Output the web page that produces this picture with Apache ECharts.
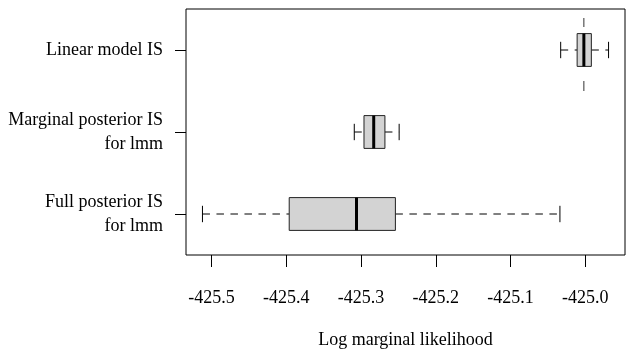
<!DOCTYPE html>
<html>
<head>
<meta charset="utf-8">
<script src="https://cdn.jsdelivr.net/npm/echarts@6/dist/echarts.min.js"></script>
<style>
  html, body { margin: 0; padding: 0; background: #fff; }
  #main { width: 628px; height: 350px; }
</style>
</head>
<body>
<div id="main"></div>
<script>
// categories, bottom to top
var categories = ['Full posterior IS\nfor lmm', 'Marginal posterior IS\nfor lmm', 'Linear model IS'];
// five-number summaries
var lowWhisker = [-425.512, -425.309, -425.033];
var q1 = [-425.396, -425.296, -425.011];
var median = [-425.306, -425.283, -425.002];
var q3 = [-425.254, -425.268, -424.992];
var highWhisker = [-425.034, -425.249, -424.969];
// dashed vertical marker drawn at the top row
var markerValue = -425.002;
var markerRow = 2;
var tickValues = [-425.5, -425.4, -425.3, -425.2, -425.1, -425.0];

var font = 'Liberation Serif';

var boxData = categories.map(function (c, i) {
    return [i, lowWhisker[i], q1[i], median[i], q3[i], highWhisker[i]];
});

function renderBox(params, api) {
    var cat = api.value(0);
    var band = api.size([0, 1])[1];
    var half = band * 0.2;
    var cap = half / 2;
    var pLo = api.coord([api.value(1), cat]);
    var pQ1 = api.coord([api.value(2), cat]);
    var pMed = api.coord([api.value(3), cat]);
    var pQ3 = api.coord([api.value(4), cat]);
    var pHi = api.coord([api.value(5), cat]);
    var y = pMed[1];
    var dash = { stroke: '#000', lineWidth: 1, lineDash: [7.5, 6.5] };
    var solid = { stroke: '#000', lineWidth: 1 };
    return {
        type: 'group',
        children: [
            { type: 'line', shape: { x1: pLo[0], y1: y, x2: pQ1[0], y2: y }, style: dash },
            { type: 'line', shape: { x1: pQ3[0], y1: y, x2: pHi[0], y2: y }, style: dash },
            { type: 'line', shape: { x1: pLo[0], y1: y - cap, x2: pLo[0], y2: y + cap }, style: solid },
            { type: 'line', shape: { x1: pHi[0], y1: y - cap, x2: pHi[0], y2: y + cap }, style: solid },
            { type: 'rect', shape: { x: pQ1[0], y: y - half, width: pQ3[0] - pQ1[0], height: 2 * half },
              style: { fill: '#d3d3d3', stroke: '#222', lineWidth: 1 } },
            { type: 'line', shape: { x1: pMed[0], y1: y - half, x2: pMed[0], y2: y + half },
              style: { stroke: '#000', lineWidth: 3 } }
        ]
    };
}

function renderMarker(params, api) {
    var p = api.coord([api.value(0), api.value(1)]);
    var st = { stroke: '#333', lineWidth: 1 };
    return {
        type: 'group',
        children: [
            { type: 'line', shape: { x1: p[0], y1: p[1] - 32, x2: p[0], y2: p[1] - 23 }, style: st },
            { type: 'line', shape: { x1: p[0], y1: p[1] + 31, x2: p[0], y2: p[1] + 41 }, style: st }
        ]
    };
}

var myChart = echarts.init(document.getElementById('main'), null, { renderer: 'canvas' });
var option = {
    animation: false,
    backgroundColor: '#fff',
    grid: {
        left: 186, right: 3, top: 9, bottom: 95,
        outerBoundsMode: 'none',
        containLabel: false,
        show: true, borderColor: '#000', borderWidth: 1, backgroundColor: 'transparent'
    },
    xAxis: {
        type: 'value',
        min: -425.534,
        max: -424.947,
        splitLine: { show: false },
        axisLine: { show: false },
        axisTick: { show: true, length: 12, customValues: tickValues, lineStyle: { color: '#000' } },
        axisLabel: {
            customValues: tickValues,
            margin: 34,
            color: '#000',
            fontFamily: font,
            fontSize: 18,
            formatter: function (v) { return v.toFixed(1); }
        },
        name: 'Log marginal likelihood',
        nameLocation: 'middle',
        nameGap: 76,
        nameTextStyle: { color: '#000', fontFamily: font, fontSize: 18 }
    },
    yAxis: {
        type: 'category',
        data: categories,
        axisLine: { show: false },
        splitLine: { show: false },
        axisTick: { show: true, alignWithLabel: true, length: 11, lineStyle: { color: '#000' } },
        axisLabel: {
            margin: 23,
            color: '#000',
            fontFamily: font,
            fontSize: 18,
            lineHeight: 24
        }
    },
    series: [
        {
            type: 'custom',
            renderItem: renderMarker,
            data: [[markerValue, markerRow]],
            encode: { x: 0, y: 1 },
            z: 1
        },
        {
            type: 'custom',
            renderItem: renderBox,
            data: boxData,
            encode: { x: [1, 2, 3, 4, 5], y: 0 },
            z: 2
        }
    ]
};
myChart.setOption(option);
</script>
</body>
</html>
